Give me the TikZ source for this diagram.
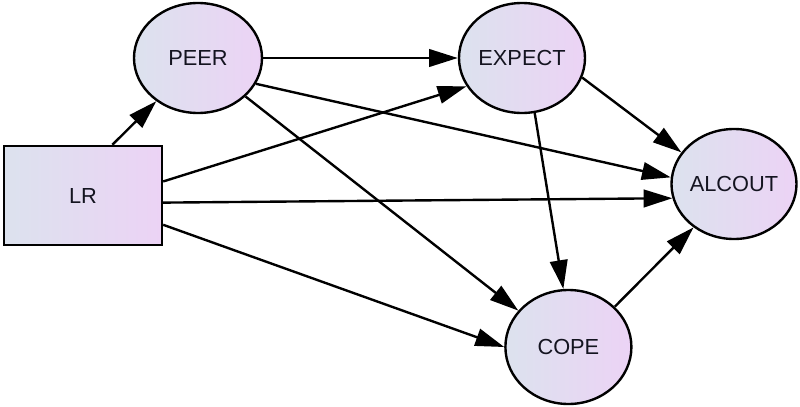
\documentclass[tikz,border=0pt]{standalone}
\usepackage{fontspec}
\setmainfont{Liberation Sans}
\usetikzlibrary{arrows.meta, shapes.geometric}

\definecolor{fillleft}{RGB}{220,226,238}
\definecolor{fillright}{RGB}{236,211,245}
\definecolor{labeltext}{RGB}{20,20,32}

\begin{document}
\begin{tikzpicture}[
        observed/.style={draw, rectangle, line width=1.7pt, inner sep=0pt, minimum width=3.95cm, minimum height=2.48cm, left color=fillleft, right color=fillright, text=labeltext, font=\fontsize{15.5}{18}\selectfont},
        construct/.style={observed, ellipse, minimum width=3.2cm, minimum height=2.75cm},
        arrow/.style={-{Triangle[length=0.72cm, width=0.44cm]}, line width=1.7pt}
    ]
        \useasboundingbox (0, 0) rectangle (20, 10.15);

        \node[observed] (lr) at (2.075, 5.26) {LR};

        \node[construct] (peer) at (4.95, 8.7) {PEER};
        \node[construct, minimum width=3.15cm] (expect) at (13.05, 8.7) {EXPECT};
        \node[construct, minimum width=3.1cm] (alcout) at (18.35, 5.55) {ALCOUT};
        \node[construct, minimum width=3.15cm, minimum height=2.85cm] (cope) at (14.21, 1.475) {COPE};

        \draw[arrow] (lr.60) -- (peer.226);
        \draw[arrow] (lr.10) -- (expect.207);
        \draw[arrow] (lr.355) -- (alcout.193);
        \draw[arrow] (lr.340) -- (cope.180);

        \draw[arrow] (peer.0) -- (expect.180);
        \draw[arrow] (peer.336) -- (alcout.174);
        \draw[arrow] (peer.321) -- (cope.144);

        \draw[arrow] (expect.342) -- (alcout.149);
        \draw[arrow] (expect.283) -- (cope.95);

        \draw[arrow] (cope.41) -- (alcout.227);

    \end{tikzpicture}
\end{document}
